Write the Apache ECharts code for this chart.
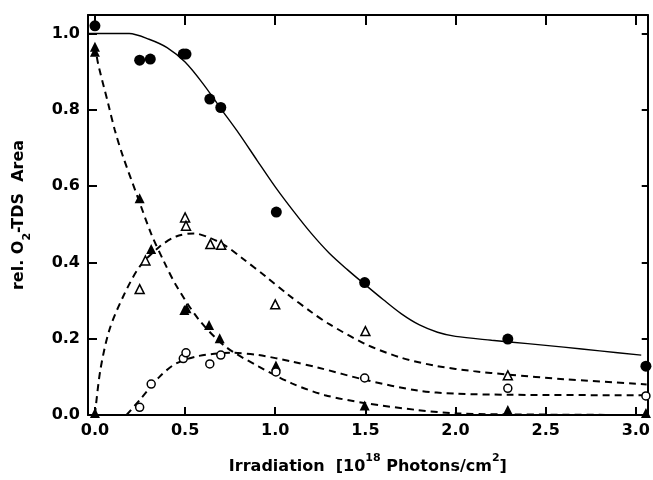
<!DOCTYPE html>
<html>
<head>
<meta charset="utf-8">
<script src="https://cdn.jsdelivr.net/npm/echarts@6/dist/echarts.min.js"></script>
<style>html,body{margin:0;padding:0;background:#fff;}#c{width:653px;height:480px;}</style>
</head>
<body>
<div id="c"></div>
<script>
// ---- data ----
var xTicks = [0, 0.5, 1.0, 1.5, 2.0, 2.5, 3.0];
var yTicks = [0, 0.2, 0.4, 0.6, 0.8, 1.0];

var filledCircles = [[0,1.02],[0.248,0.93],[0.307,0.933],[0.49,0.946],[0.505,0.946],[0.637,0.828],[0.698,0.806],[1.006,0.532],[1.496,0.347],[2.29,0.199],[3.056,0.128]];
var filledTriangles = [[0,0.965],[0,0.952],[0,0.005],[0.248,0.568],[0.312,0.435],[0.496,0.275],[0.508,0.28],[0.633,0.236],[0.692,0.201],[1.004,0.13],[1.496,0.025],[2.29,0.013],[3.056,0.005]];
var openTriangles = [[0.248,0.33],[0.28,0.405],[0.5,0.518],[0.505,0.496],[0.64,0.448],[0.70,0.446],[1.0,0.29],[1.5,0.22],[2.29,0.104]];
var openCircles = [[0.248,0.02],[0.312,0.081],[0.49,0.148],[0.505,0.163],[0.637,0.134],[0.698,0.157],[1.004,0.113],[1.496,0.097],[2.29,0.07],[3.056,0.05]];

var fitTotal = [[-0.04,1.0],[0.1,1.0],[0.19,1.0],[0.3,0.985],[0.4,0.963],[0.5,0.925],[0.6,0.868],[0.7,0.802],[0.8,0.737],[0.9,0.667],[1.0,0.598],[1.1,0.535],[1.2,0.476],[1.3,0.424],[1.4,0.381],[1.5,0.341],[1.6,0.302],[1.7,0.265],[1.8,0.236],[1.9,0.217],[2.0,0.206],[2.2,0.196],[2.4,0.187],[2.6,0.178],[2.8,0.168],[3.03,0.157]];
var fitTriangleFilled = [[0,0.97],[0.018,0.92],[0.073,0.817],[0.11,0.747],[0.156,0.677],[0.238,0.57],[0.312,0.475],[0.385,0.40],[0.45,0.34],[0.578,0.249],[0.725,0.179],[0.909,0.127],[1.092,0.083],[1.276,0.052],[1.5,0.031],[1.79,0.013],[2.01,0.004],[2.5,0.001],[3.06,0.0]];
var fitTriangleOpen = [[0,0],[0.03,0.118],[0.08,0.223],[0.156,0.31],[0.248,0.389],[0.358,0.441],[0.45,0.468],[0.55,0.476],[0.633,0.465],[0.72,0.445],[0.817,0.411],[0.95,0.362],[1.07,0.316],[1.2,0.27],[1.3,0.238],[1.5,0.186],[1.7,0.15],[1.9,0.128],[2.1,0.115],[2.29,0.106],[2.6,0.094],[3.0,0.082],[3.06,0.08]];
var fitCircleOpen = [[0.175,0],[0.248,0.039],[0.358,0.1],[0.45,0.135],[0.578,0.155],[0.762,0.163],[0.909,0.157],[1.092,0.14],[1.24,0.124],[1.5,0.092],[1.79,0.064],[2.0,0.056],[2.3,0.053],[3.0,0.052],[3.06,0.052]];

// ---- chart ----
var FONT = 'DejaVu Sans';
var chart = echarts.init(document.getElementById('c'), null, {renderer: 'canvas'});
var lbl = {fontFamily: FONT, fontWeight: 'bold', fontSize: 16, color: '#000'};
function fmt(v){ return Number(v).toFixed(1); }

var axisLineStyle = {show: true, onZero: false, lineStyle: {color: '#000', width: 2}};

function dashed(data){
  return {type:'line', data:data, smooth:0.3, symbol:'none', silent:true,
          lineStyle:{color:'#000', width:2, type:[7,5]}, z:2};
}
function scatter(data, sym, size, open){
  return {type:'scatter', data:data, symbol:sym, symbolSize:size, silent:true, z:5,
          itemStyle: open ? {color:'#fff', borderColor:'#000', borderWidth:1.5, opacity:1}
                          : {color:'#000', borderColor:'#000', borderWidth:0, opacity:1}};
}

chart.setOption({
  animation: false,
  backgroundColor: '#fff',
  grid: {left: 88, right: 1, top: 15, bottom: 65, containLabel: false},
  xAxis: [{
    type: 'value', min: -0.0385, max: 3.066, position: 'bottom',
    axisLine: axisLineStyle, splitLine: {show: false},
    axisTick: {show: true, inside: true, length: 8, lineStyle: {color: '#000', width: 2}, customValues: xTicks},
    axisLabel: Object.assign({show: true, margin: 8, formatter: fmt, customValues: xTicks}, lbl),
    name: '{a|Irradiation  [10}{s|18}{a| Photons/cm}{s|2}{a|]}',
    nameLocation: 'middle', nameGap: 38,
    nameTextStyle: {rich: {
      a: {fontFamily: FONT, fontWeight: 'bold', fontSize: 16, color: '#000', lineHeight: 22, verticalAlign: 'bottom'},
      s: {fontFamily: FONT, fontWeight: 'bold', fontSize: 11, color: '#000', lineHeight: 22, verticalAlign: 'top'}
    }}
  }, {
    type: 'value', min: -0.0385, max: 3.066, position: 'top',
    axisLine: axisLineStyle, splitLine: {show: false},
    axisTick: {show: true, inside: true, length: 10, lineStyle: {color: '#000', width: 2}, customValues: xTicks},
    axisLabel: {show: false}
  }],
  yAxis: [{
    type: 'value', min: 0, max: 1.0485, position: 'left',
    axisLine: axisLineStyle, splitLine: {show: false},
    axisTick: {show: true, inside: true, length: 9, lineStyle: {color: '#000', width: 2}, customValues: yTicks},
    axisLabel: Object.assign({show: true, margin: 8, formatter: fmt, customValues: yTicks}, lbl),
    name: '{a|rel. O}{b|2}{a|-TDS  Area}',
    nameLocation: 'middle', nameGap: 55, nameRotate: 90,
    nameTextStyle: {rich: {
      a: {fontFamily: FONT, fontWeight: 'bold', fontSize: 16, color: '#000', lineHeight: 22, verticalAlign: 'top'},
      b: {fontFamily: FONT, fontWeight: 'bold', fontSize: 11, color: '#000', lineHeight: 22, verticalAlign: 'bottom'}
    }}
  }, {
    type: 'value', min: 0, max: 1.0485, position: 'right',
    axisLine: axisLineStyle, splitLine: {show: false},
    axisTick: {show: true, inside: true, length: 6, lineStyle: {color: '#000', width: 2}, customValues: yTicks},
    axisLabel: {show: false}
  }],
  series: [
    {type:'line', data:fitTotal, smooth:0.3, symbol:'none', silent:true, lineStyle:{color:'#000', width:1.4}, z:2},
    dashed(fitTriangleFilled),
    dashed(fitTriangleOpen),
    dashed(fitCircleOpen),
    scatter(filledCircles, 'circle', 11, false),
    scatter(filledTriangles, 'triangle', 10, false),
    scatter(openTriangles, 'triangle', 9, true),
    scatter(openCircles, 'circle', 8, true)
  ]
});
</script>
</body>
</html>
